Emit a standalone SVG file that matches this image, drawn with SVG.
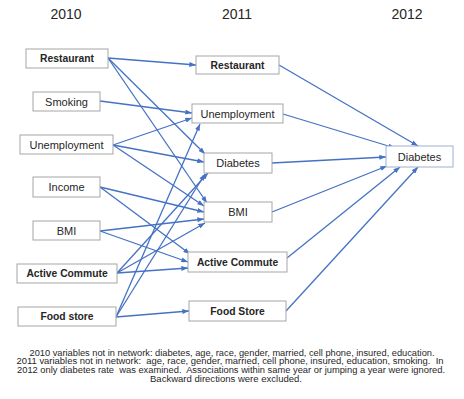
<svg xmlns="http://www.w3.org/2000/svg" width="464" height="399" viewBox="0 0 464 399">
<style>
.bg{fill:#ffffff}
.box rect{fill:#ffffff;stroke:#a6a6a6;stroke-width:1}
.box text{font-family:"Liberation Sans",Arial,sans-serif;font-size:11px;fill:#262626;text-anchor:middle}
.box text.b{font-weight:bold;font-size:10.3px}
.hdr{font-family:"Liberation Sans",Arial,sans-serif;font-size:14px;fill:#262626;text-anchor:middle}
.note{font-family:"Liberation Sans",Arial,sans-serif;font-size:8.4px;fill:#262626;text-anchor:middle;white-space:pre}
#edges line{stroke:#4472C4;stroke-width:1.3;marker-end:url(#ah)}
</style>
<defs>
<marker id="ah" viewBox="0 0 8 6" refX="8" refY="3" markerWidth="7" markerHeight="5" markerUnits="userSpaceOnUse" orient="auto">
<path d="M0,0 L8,3 L0,6 Z" fill="#4472C4"/>
</marker>
</defs>
<rect class="bg" x="0" y="0" width="464" height="399"/>
<g id="headers">
<text class="hdr" x="66" y="19">2010</text>
<text class="hdr" x="237" y="19">2011</text>
<text class="hdr" x="407" y="19">2012</text>
</g>
<g id="edges">
<line x1="108" y1="58" x2="196" y2="65"/>
<line x1="108" y1="58" x2="205" y2="154"/>
<line x1="108" y1="58" x2="207" y2="203"/>
<line x1="100" y1="101" x2="192" y2="113"/>
<line x1="113" y1="145" x2="192" y2="118"/>
<line x1="113" y1="145" x2="204" y2="162"/>
<line x1="113" y1="145" x2="204" y2="206"/>
<line x1="100" y1="187" x2="204" y2="212"/>
<line x1="100" y1="187" x2="190" y2="254"/>
<line x1="100" y1="231" x2="204" y2="219"/>
<line x1="100" y1="231" x2="188" y2="262"/>
<line x1="117" y1="273" x2="188" y2="268"/>
<line x1="117" y1="273" x2="205" y2="223"/>
<line x1="117" y1="273" x2="208" y2="173"/>
<line x1="116" y1="317" x2="200" y2="124"/>
<line x1="116" y1="317" x2="205" y2="174"/>
<line x1="116" y1="317" x2="189" y2="311"/>
<line x1="279" y1="65" x2="418" y2="146"/>
<line x1="283" y1="114" x2="395" y2="148"/>
<line x1="272" y1="163" x2="386" y2="157"/>
<line x1="272" y1="212" x2="387" y2="166"/>
<line x1="287" y1="258" x2="400" y2="167"/>
<line x1="286" y1="311" x2="418" y2="167"/>
</g>
<g id="n2010_restaurant" class="box"><rect x="26" y="49" width="82" height="19"/><text class="b" x="67" y="62">Restaurant</text></g>
<g id="n2010_smoking" class="box"><rect x="33" y="92" width="67" height="19"/><text x="66.5" y="105.5">Smoking</text></g>
<g id="n2010_unemployment" class="box"><rect x="20" y="135" width="93" height="19"/><text x="66.5" y="148.5">Unemployment</text></g>
<g id="n2010_income" class="box"><rect x="33" y="177" width="67" height="20"/><text x="66.5" y="191">Income</text></g>
<g id="n2010_bmi" class="box"><rect x="33" y="221" width="67" height="19"/><text x="66.5" y="234.5">BMI</text></g>
<g id="n2010_active" class="box"><rect x="17" y="264" width="100" height="19"/><text class="b" x="67" y="277.2">Active Commute</text></g>
<g id="n2010_food" class="box"><rect x="18" y="307" width="98" height="19"/><text class="b" x="67" y="320.2">Food store</text></g>
<g id="n2011_restaurant" class="box"><rect x="196" y="56" width="83" height="18"/><text class="b" x="237.5" y="68.7">Restaurant</text></g>
<g id="n2011_unemployment" class="box"><rect x="192" y="104" width="91" height="19"/><text x="237.5" y="117.5">Unemployment</text></g>
<g id="n2011_diabetes" class="box"><rect x="204" y="153" width="68" height="20"/><text x="238" y="167">Diabetes</text></g>
<g id="n2011_bmi" class="box"><rect x="204" y="202" width="68" height="20"/><text x="238" y="216">BMI</text></g>
<g id="n2011_active" class="box"><rect x="188" y="252" width="99" height="20"/><text class="b" x="237.5" y="265.7">Active Commute</text></g>
<g id="n2011_food" class="box"><rect x="189" y="301" width="97" height="20"/><text class="b" x="237.5" y="314.7">Food Store</text></g>
<g id="n2012_diabetes" class="box"><rect x="386" y="146" width="67" height="21" style="stroke:#9fb0d0"/><text x="419.5" y="160.5">Diabetes</text></g>
<g id="footnote">
<text class="note" x="232" y="355.5" textLength="405" lengthAdjust="spacingAndGlyphs">2010 variables not in network: diabetes, age, race, gender, married, cell phone, insured, education.</text>
<text class="note" x="230" y="364.2" textLength="427" lengthAdjust="spacingAndGlyphs">2011 variables not in network:  age, race, gender, married, cell phone, insured, education, smoking.  In</text>
<text class="note" x="231" y="372.8" textLength="428" lengthAdjust="spacingAndGlyphs">2012 only diabetes rate  was examined.  Associations within same year or jumping a year were ignored.</text>
<text class="note" x="226" y="381.5" textLength="152" lengthAdjust="spacingAndGlyphs">Backward directions were excluded.</text>
</g>
</svg>
